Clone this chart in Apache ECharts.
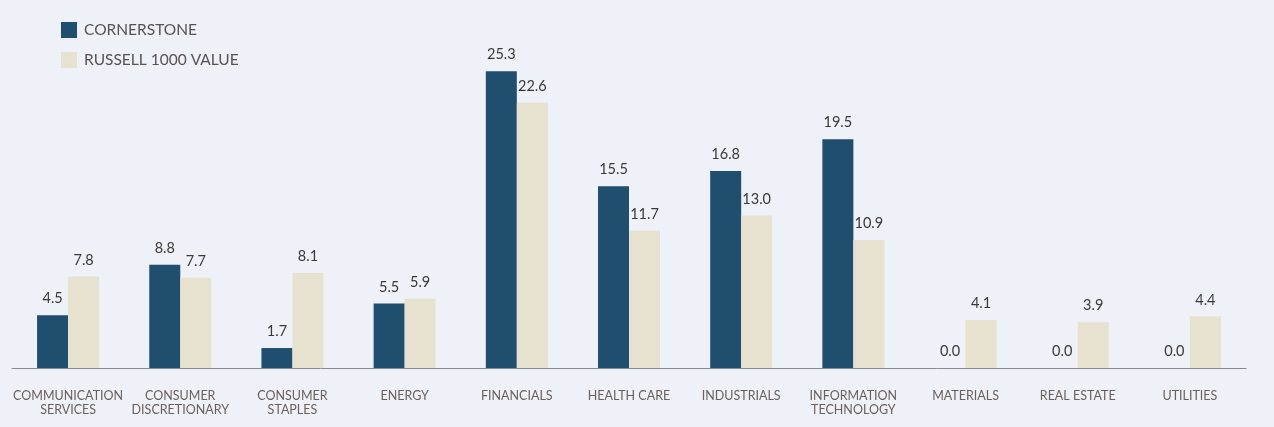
<!DOCTYPE html>
<html><head><meta charset="utf-8">
<script src="https://cdn.jsdelivr.net/npm/echarts@6/dist/echarts.min.js"></script>
<style>html,body{margin:0;padding:0;background:#eef1f7;}#c{width:1274px;height:427px;}</style>
</head><body><div id="c"></div>
<script>
const categories = ["COMMUNICATION\nSERVICES","CONSUMER\nDISCRETIONARY","CONSUMER\nSTAPLES","ENERGY","FINANCIALS","HEALTH CARE","INDUSTRIALS","INFORMATION\nTECHNOLOGY","MATERIALS","REAL ESTATE","UTILITIES"];
const cornerstone = [4.5, 8.8, 1.7, 5.5, 25.3, 15.5, 16.8, 19.5, 0.0, 0.0, 0.0];
const russell = [7.8, 7.7, 8.1, 5.9, 22.6, 11.7, 13.0, 10.9, 4.1, 3.9, 4.4];
const seriesNames = ["CORNERSTONE", "RUSSELL 1000 VALUE"];

const font = "Lato, 'Noto Sans', sans-serif";
const chart = echarts.init(document.getElementById('c'));
const lbl = {show:true, position:'top', distance:9, color:'#3b3838', fontSize:14.5, fontFamily:font, formatter:p=>p.value.toFixed(1)};
chart.setOption({
  backgroundColor:'#eef1f7',
  animation:false,
  legend:{orient:'vertical', left:56, top:17, itemWidth:16, itemHeight:16, itemGap:14,
    icon:'rect', textStyle:{color:'#5a5151', fontSize:15.5, fontFamily:font, padding:[0,0,0,2]}},
  grid:{left:12, right:28, top:16, bottom:59},
  xAxis:{type:'category', data:categories,
    axisLine:{lineStyle:{color:'#8a8a8a'}}, axisTick:{show:false},
    axisLabel:{color:'#6b605b', fontSize:12.5, fontFamily:font, margin:21, lineHeight:14, interval:0}},
  yAxis:{type:'value', min:0, max:30, show:false, splitLine:{show:false}},
  series:[
    {name:seriesNames[0], type:'bar', data:cornerstone, barWidth:31, barGap:'0%', itemStyle:{color:'#1f4e6f'}, label:lbl},
    {name:seriesNames[1], type:'bar', data:russell, barWidth:31, itemStyle:{color:'#e7e1d0'}, label:lbl}
  ]
});
</script></body></html>
